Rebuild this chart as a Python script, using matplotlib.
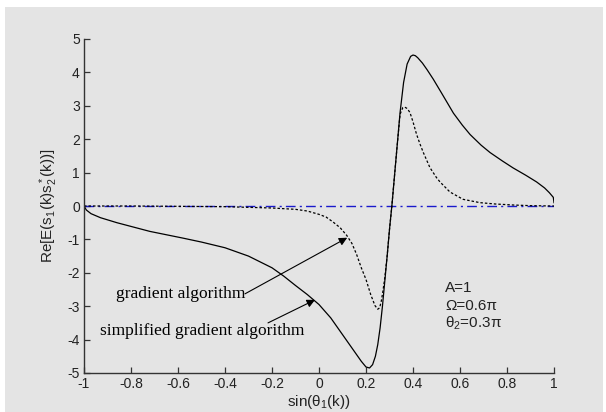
import matplotlib
matplotlib.use("Agg")
import matplotlib.pyplot as plt
from matplotlib.patches import Rectangle

plt.rcParams["font.family"] = ["Liberation Sans", "DejaVu Sans"]
plt.rcParams["mathtext.fontset"] = "custom"
plt.rcParams["mathtext.rm"] = "Liberation Sans"
plt.rcParams["mathtext.it"] = "Liberation Sans:italic"
plt.rcParams["axes.unicode_minus"] = False

# simplified gradient algorithm (solid)
x_simple = [-1.0, -0.99, -0.97, -0.93, -0.86, -0.79, -0.72, -0.65, -0.58, -0.5,
            -0.4, -0.3, -0.2, -0.15, -0.1, -0.05, 0.0, 0.05, 0.1, 0.15,
            0.18, 0.2, 0.215, 0.228, 0.24, 0.25, 0.26, 0.27, 0.28, 0.29,
            0.3, 0.31, 0.32, 0.33, 0.345, 0.36, 0.375, 0.39, 0.40, 0.41,
            0.42, 0.44, 0.46, 0.486, 0.52, 0.572, 0.61, 0.643, 0.69, 0.728,
            0.78, 0.826, 0.88, 0.926, 0.96, 0.98, 0.997, 1.0]
y_simple = [0.0, -0.12, -0.23, -0.35, -0.5, -0.63, -0.76, -0.86, -0.96, -1.08,
            -1.25, -1.5, -1.85, -2.1, -2.38, -2.65, -2.95, -3.35, -3.85, -4.35,
            -4.65, -4.82, -4.85, -4.75, -4.5, -4.15, -3.65, -3.0, -2.25, -1.5,
            -0.7, 0.0, 0.8, 1.6, 2.8, 3.7, 4.25, 4.48, 4.52, 4.5,
            4.44, 4.28, 4.08, 3.8, 3.4, 2.78, 2.42, 2.14, 1.82, 1.6,
            1.35, 1.14, 0.92, 0.72, 0.54, 0.4, 0.26, 0.1]

# gradient algorithm (dotted)
x_grad = [-1.0, -0.8, -0.6, -0.4, -0.3, -0.2, -0.1, -0.05, 0.0, 0.03,
          0.06, 0.09, 0.118, 0.14, 0.16, 0.18, 0.2, 0.22, 0.238, 0.25,
          0.258, 0.265, 0.272, 0.28, 0.29, 0.3, 0.31, 0.32, 0.33, 0.345,
          0.357, 0.365, 0.375, 0.387, 0.4, 0.415, 0.43, 0.444, 0.472, 0.5,
          0.515, 0.557, 0.613, 0.685, 0.75, 0.826, 0.9, 1.0]
y_grad = [0.0, 0.0, -0.01, -0.02, -0.04, -0.06, -0.1, -0.15, -0.25, -0.33,
          -0.48, -0.65, -0.88, -1.12, -1.45, -1.85, -2.2, -2.65, -2.98, -3.09,
          -3.05, -2.85, -2.55, -2.15, -1.5, -0.7, 0.0, 0.8, 1.6, 2.75,
          2.95, 2.96, 2.92, 2.8, 2.52, 2.15, 1.85, 1.6, 1.15, 0.85,
          0.72, 0.42, 0.2, 0.1, 0.06, 0.03, 0.01, 0.0]

x_ticks = [-1, -0.8, -0.6, -0.4, -0.2, 0, 0.2, 0.4, 0.6, 0.8, 1]
x_labels = ["-1", "-0.8", "-0.6", "-0.4", "-0.2", "0", "0.2", "0.4", "0.6", "0.8", "1"]
y_ticks = [-5, -4, -3, -2, -1, 0, 1, 2, 3, 4, 5]
y_labels = ["-5", "-4", "-3", "-2", "-1", "0", "1", "2", "3", "4", "5"]

bg = "#e4e4e4"
ink = "#222222"

fig = plt.figure(figsize=(6.06, 4.12), dpi=100, facecolor="white")
# grey panel with a thin white border at top, left and right
fig.patches.append(Rectangle((5 / 606, 0), 598 / 606, 405 / 412,
                             transform=fig.transFigure, facecolor=bg,
                             edgecolor="none", zorder=-10))
ax = fig.add_axes([84 / 606, 1 - 373 / 412, 470 / 606, 334 / 412])
ax.set_facecolor(bg)

ax.plot([-1, 1], [0, 0], color="#1a1acc", lw=1.0, linestyle="-.", dashes=(7, 3, 1.5, 3))
ax.plot(x_grad, y_grad, color="black", lw=0.9, linestyle=(0, (2, 1.6)))
ax.plot(x_simple, y_simple, color="black", lw=0.9)

ax.set_xlim(-1, 1)
ax.set_ylim(-5, 5)
ax.set_xticks(x_ticks)
ax.set_xticklabels(x_labels)
ax.set_yticks(y_ticks)
ax.set_yticklabels(y_labels)
ax.tick_params(direction="in", length=4, width=0.9, colors="#333333",
               labelcolor=ink, labelsize=10, pad=3)
for side in ["top", "right"]:
    ax.spines[side].set_visible(False)
for side in ["left", "bottom"]:
    ax.spines[side].set_color("#333333")
    ax.spines[side].set_linewidth(1.0)

ax.set_xlabel("sin(θ$_1$(k))", fontsize=11, color=ink, labelpad=1)
ax.set_ylabel("Re[E(s$_1$(k)s$_2^*$(k))]", fontsize=11, color=ink, labelpad=5)

serif = ["Liberation Serif"]
ax.text(-0.864, -2.63, "gradient algorithm", ha="left", va="center",
        family=serif, fontsize=12.5)
ax.text(-0.932, -3.74, "simplified gradient algorithm", ha="left", va="center",
        family=serif, fontsize=12.5)

arrow = dict(arrowstyle="-|>", color="black", lw=0.8, mutation_scale=12,
             shrinkA=0, shrinkB=0)
ax.annotate("", xy=(0.12, -0.95), xytext=(-0.315, -2.63), arrowprops=arrow)
ax.annotate("", xy=(-0.017, -2.81), xytext=(-0.217, -3.5), arrowprops=arrow)

ax.text(0.538, -2.45, "A=1", fontsize=11, color=ink, va="center")
ax.text(0.538, -3.0, "Ω=0.6π", fontsize=11, color=ink, va="center")
ax.text(0.538, -3.5, "θ$_2$=0.3π", fontsize=11, color=ink, va="center")

fig.savefig("out.png", dpi=100, facecolor=fig.get_facecolor())
